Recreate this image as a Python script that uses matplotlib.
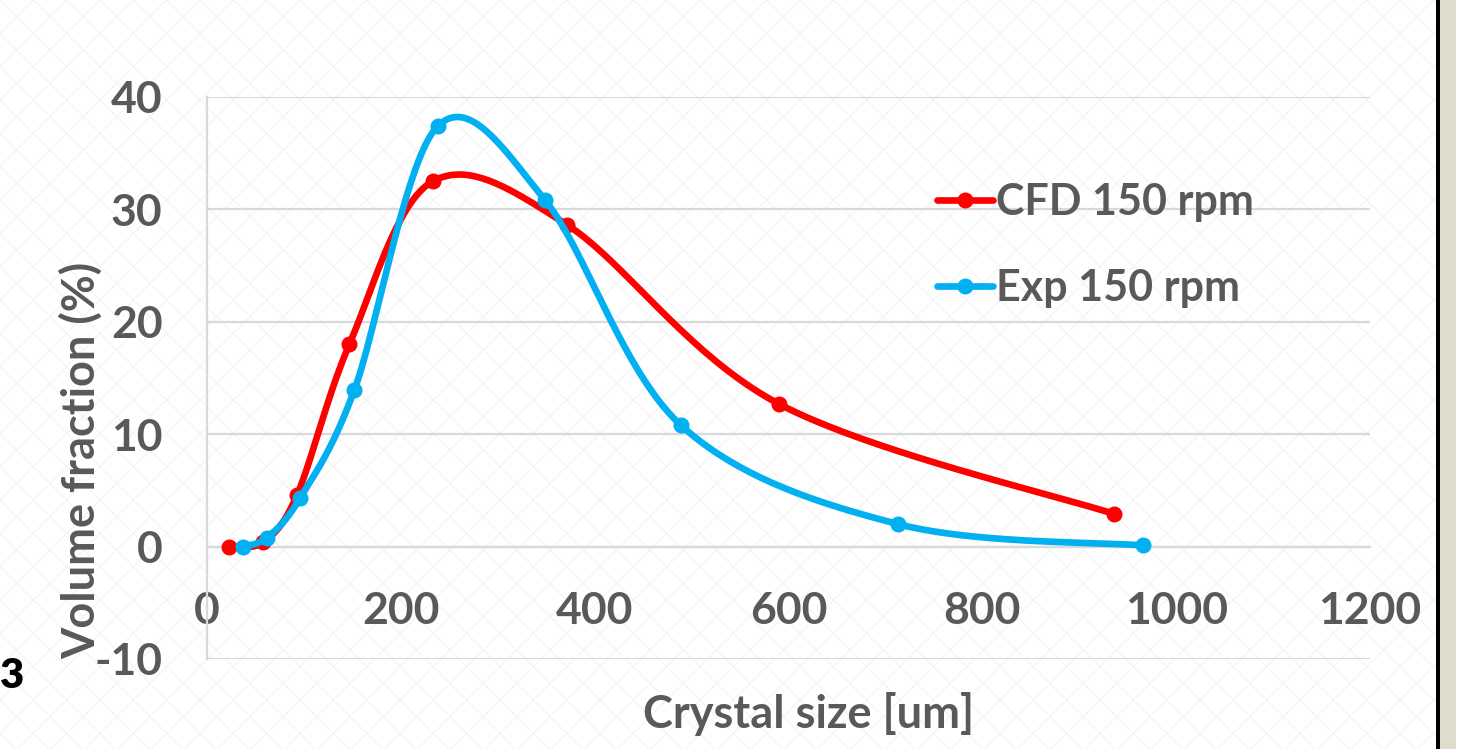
import matplotlib
matplotlib.use("Agg")
import matplotlib.pyplot as plt
from matplotlib.patches import Rectangle
import numpy as np

plt.rcParams.update({
    'font.family': 'Lato',
    'font.weight': 'bold',
    'hatch.linewidth': 0.7,
    'axes.unicode_minus': False,
})

# data
cfd_size = [23, 58, 93, 147, 233, 372, 590, 936]
cfd_frac = [0.0, 0.4, 4.6, 18.0, 32.5, 28.6, 12.7, 2.9]
exp_size = [37, 62, 96, 152, 238, 349, 489, 713, 966]
exp_frac = [0.0, 0.8, 4.3, 13.9, 37.4, 30.8, 10.8, 2.0, 0.1]
series_names = ["CFD 150 rpm", "Exp 150 rpm"]
series_colors = ["#ff0000", "#00b0f0"]
x_ticks = [0, 200, 400, 600, 800, 1000, 1200]
y_ticks = [-10, 0, 10, 20, 30, 40]

GRAY = "#595959"


def smooth(xs, ys, n=40):
    # excel style smoothed line (catmull-rom bezier)
    p = np.column_stack([xs, ys]).astype(float)
    pts = np.vstack([p[0], p, p[-1]])
    out = []
    marks = []
    t = np.linspace(0, 1, n, endpoint=False)[:, None]
    for i in range(1, len(pts) - 2):
        p0, p1, p2, p3 = pts[i - 1], pts[i], pts[i + 1], pts[i + 2]
        b1 = p1 + (p2 - p0) / 6
        b2 = p2 - (p3 - p1) / 6
        seg = ((1 - t) ** 3) * p1 + 3 * ((1 - t) ** 2) * t * b1 + 3 * (1 - t) * t ** 2 * b2 + t ** 3 * p2
        marks.append(len(out))
        out.extend(seg)
    marks.append(len(out))
    out.append(p[-1])
    out = np.array(out)
    return out[:, 0], out[:, 1], marks


fig = plt.figure(figsize=(14.75, 7.49), dpi=100)
fig.patch.set_facecolor("white")

# faint slide background texture + right edge of the slide
fig.patches.append(Rectangle((0, 0), 0.9736, 1, transform=fig.transFigure, facecolor="white",
                             edgecolor="#f2f2f2", hatch="x", linewidth=0, zorder=-10))
fig.patches.append(Rectangle((0.9736, 0), 0.0029, 1, transform=fig.transFigure, facecolor="black",
                             edgecolor="none", zorder=-5))
fig.patches.append(Rectangle((0.9765, 0), 0.0108, 1, transform=fig.transFigure, facecolor="#e0dccb",
                             edgecolor="none", zorder=-5))

ax = fig.add_axes([0.1403, 0.1202, 0.9288 - 0.1403, 0.8705 - 0.1202])
ax.set_facecolor("none")

for xs, ys, name, col in [(cfd_size, cfd_frac, series_names[0], series_colors[0]),
                          (exp_size, exp_frac, series_names[1], series_colors[1])]:
    sx, sy, mk = smooth(xs, ys)
    ax.plot(sx, sy, color=col, lw=4.8, marker="o", markersize=10.5, markevery=mk,
            solid_capstyle="round", label=name, zorder=3)

ax.set_xlim(0, 1200)
ax.set_ylim(-10, 40)
ax.set_xticks(x_ticks)
ax.set_yticks(y_ticks)
ax.yaxis.grid(True, color="#d9d9d9", lw=1.6)
ax.set_axisbelow(True)

for s in ["top", "right"]:
    ax.spines[s].set_visible(False)
ax.spines["left"].set_color("#d9d9d9")
ax.spines["left"].set_linewidth(1.6)
ax.spines["bottom"].set_position(("data", 0))
ax.spines["bottom"].set_color("#d9d9d9")
ax.spines["bottom"].set_linewidth(1.6)

ax.tick_params(axis="both", length=0, labelsize=32, labelcolor=GRAY)
ax.tick_params(axis="x", pad=32)
ax.tick_params(axis="y", pad=32)

ax.set_xlabel("Crystal size [um]", fontsize=32.5, color=GRAY, fontweight="bold")
ax.xaxis.set_label_coords(0.5175, -0.058)
ax.set_ylabel("Volume fraction (%)", fontsize=32.5, color=GRAY, fontweight="bold")
ax.yaxis.set_label_coords(-0.0893, 0.3535)

leg = ax.legend(loc="upper left", bbox_to_anchor=(0.613, 0.8787), frameon=False, fontsize=31,
                handlelength=1.3, handletextpad=0.07, labelspacing=1.05, borderaxespad=0)
for t in leg.get_texts():
    t.set_color(GRAY)

# cropped slide remnant at lower left
fig.text(0.0, 0.097, "3", fontsize=30, fontweight="heavy", color="black", ha="left", va="center")

fig.savefig("out.png", dpi=100)
